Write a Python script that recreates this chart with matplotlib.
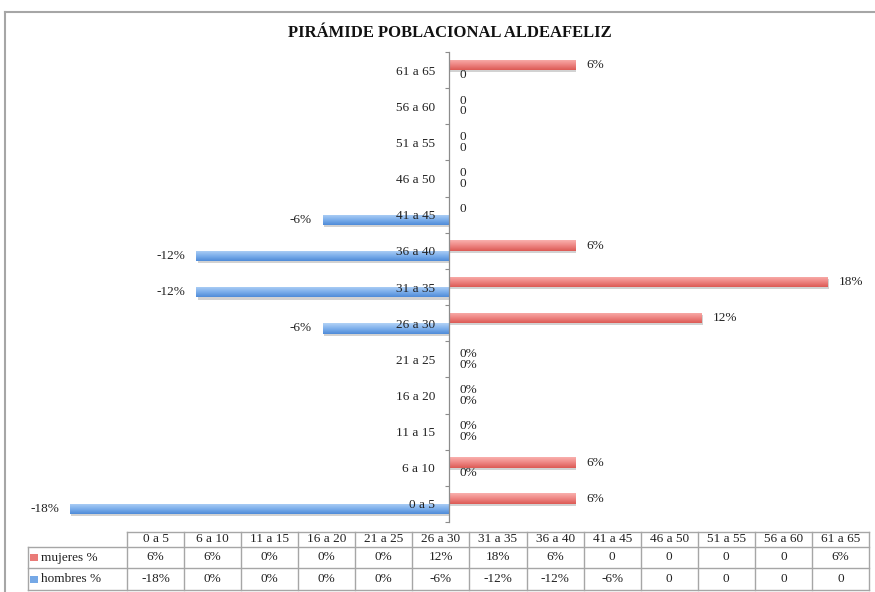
import matplotlib
matplotlib.use('Agg')
import matplotlib.pyplot as plt
import numpy as np
from matplotlib.lines import Line2D
from matplotlib.patches import Rectangle
import matplotlib.patheffects as pe
from matplotlib.colors import LinearSegmentedColormap

categories = ['0 a 5', '6 a 10', '11 a 15', '16 a 20', '21 a 25', '26 a 30', '31 a 35',
              '36 a 40', '41 a 45', '46 a 50', '51 a 55', '56 a 60', '61 a 65']
mujeres = [6, 6, 0, 0, 0, 12, 18, 6, 0, 0, 0, 0, 6]
hombres = [-18, 0, 0, 0, 0, -6, -12, -12, -6, 0, 0, 0, 0]
mujeres_labels = ['6%', '6%', '0%', '0%', '0%', '12%', '18%', '6%', '0', '0', '0', '0', '6%']
hombres_labels = ['-18%', '0%', '0%', '0%', '0%', '-6%', '-12%', '-12%', '-6%', '0', '0', '0', '0']
series_names = ['mujeres %', 'hombres %']
title = 'PIRÁMIDE POBLACIONAL ALDEAFELIZ'

FONT = 'Liberation Serif'
plt.rcParams['font.family'] = [FONT, 'DejaVu Sans']
FS = 9.5

W, H = 875, 592
fig = plt.figure(figsize=(W / 100, H / 100), dpi=100)
fig.patch.set_facecolor('white')

def fx(px):
    return px / W

def fy(py):
    return 1 - py / H

ax = fig.add_axes([fx(28), fy(522), fx(870) - fx(28), fy(52) - fy(522)])
ax.set_facecolor('none')

y = np.arange(len(categories))
bh = 0.29
off = 0.145

shadow = [pe.SimplePatchShadow(offset=(0.8, -1.5), shadow_rgbFace='#808080', alpha=0.35), pe.Normal()]
red_bars = ax.barh(y + off, mujeres, height=bh, color='#ea7b78', linewidth=0, zorder=1)
blue_bars = ax.barh(y - off, hombres, height=bh, color='#75a8e6', linewidth=0, zorder=1)

red_cmap = LinearSegmentedColormap.from_list('r', ['#dc5a55', '#ee8683', '#f9b0ae'])
blue_cmap = LinearSegmentedColormap.from_list('b', ['#4f8bd8', '#7eb0ec', '#b2d2f6'])
grad = np.linspace(0, 1, 64).reshape(-1, 1)

for bars, cmap in ((red_bars, red_cmap), (blue_bars, blue_cmap)):
    for r in bars:
        w = r.get_width()
        if w == 0:
            continue
        r.set_path_effects(shadow)
        x0 = r.get_x()
        y0 = r.get_y()
        h = r.get_height()
        im = ax.imshow(grad, cmap=cmap, origin='lower', aspect='auto',
                       extent=[min(x0, x0 + w), max(x0, x0 + w), y0, y0 + h],
                       zorder=1.5, interpolation='bilinear')
        im.set_clip_path(r)

txt_kw = dict(fontsize=FS, color='#222222')

# value labels
for vals, labs, dy in ((mujeres, mujeres_labels, off), (hombres, hombres_labels, -off)):
    for i, (v, t) in enumerate(zip(vals, labs)):
        if v >= 0:
            ax.annotate(t, xy=(v, i + dy), xytext=(11, 0), textcoords='offset pixels',
                        ha='left', va='center', **txt_kw)
        else:
            ax.annotate(t, xy=(v, i + dy), xytext=(-11, 0), textcoords='offset pixels',
                        ha='right', va='center', **txt_kw)

ax.set_xlim(-20, 20)
ax.set_ylim(-0.5, len(categories) - 0.5)
ax.set_xticks([])
ax.set_yticks(y)
ax.set_yticks(np.arange(-0.5, len(categories), 1), minor=True)
ax.tick_params(axis='y', which='major', length=0, pad=10, labelsize=FS, labelcolor='#222222')
ax.tick_params(axis='y', which='minor', length=3, width=0.8, color='#8c8c8c', direction='out')
ax.set_yticklabels(categories)
for s in ('top', 'right', 'bottom'):
    ax.spines[s].set_visible(False)
ax.spines['left'].set_position(('data', 0))
ax.spines['left'].set_color('#8c8c8c')
ax.spines['left'].set_linewidth(0.9)
ax.spines['left'].set_zorder(2.5)

# title
fig.text(fx(450), fy(33), title, fontweight='bold',
         fontsize=12, ha='center', va='center', color='#111111')

# chart border
bc = '#a6a6a6'
fig.add_artist(Line2D([fx(5), fx(875)], [fy(12), fy(12)], color=bc, lw=1.5))
fig.add_artist(Line2D([fx(5), fx(5)], [fy(12), fy(592)], color=bc, lw=1.5))

# data table
tl = '#a6a6a6'
left_x, head_x, right_x = 28, 127, 869
col_w = (right_x - head_x) / len(categories)
rows_y = [532, 547, 568, 590]
cols_x = [head_x + col_w * i for i in range(len(categories) + 1)]
fig.add_artist(Line2D([fx(head_x), fx(right_x)], [fy(rows_y[0])] * 2, color=tl, lw=1.0))
for ry in rows_y[1:]:
    fig.add_artist(Line2D([fx(left_x), fx(right_x)], [fy(ry)] * 2, color=tl, lw=1.0))
fig.add_artist(Line2D([fx(left_x)] * 2, [fy(rows_y[1]), fy(rows_y[3])], color=tl, lw=1.0))
for cx in cols_x:
    fig.add_artist(Line2D([fx(cx)] * 2, [fy(rows_y[0]), fy(rows_y[3])], color=tl, lw=1.0))

row_centers = [(rows_y[k] + rows_y[k + 1]) / 2 for k in range(3)]
for i, c in enumerate(categories):
    cx = (cols_x[i] + cols_x[i + 1]) / 2
    fig.text(fx(cx), fy(row_centers[0]), c, ha='center', va='center', **txt_kw)
    fig.text(fx(cx), fy(row_centers[1]), mujeres_labels[i], ha='center', va='center', **txt_kw)
    fig.text(fx(cx), fy(row_centers[2]), hombres_labels[i], ha='center', va='center', **txt_kw)

key_colors = ['#ea7b78', '#75a8e6']
for k, (name, kc) in enumerate(zip(series_names, key_colors)):
    cy = row_centers[k + 1]
    fig.add_artist(Rectangle((fx(30), fy(cy + 3.5)), fx(8), fy(0) - fy(7), color=kc, lw=0))
    fig.text(fx(41), fy(cy), name, ha='left', va='center', **txt_kw)

fig.savefig('out.png', dpi=100, facecolor='white')
